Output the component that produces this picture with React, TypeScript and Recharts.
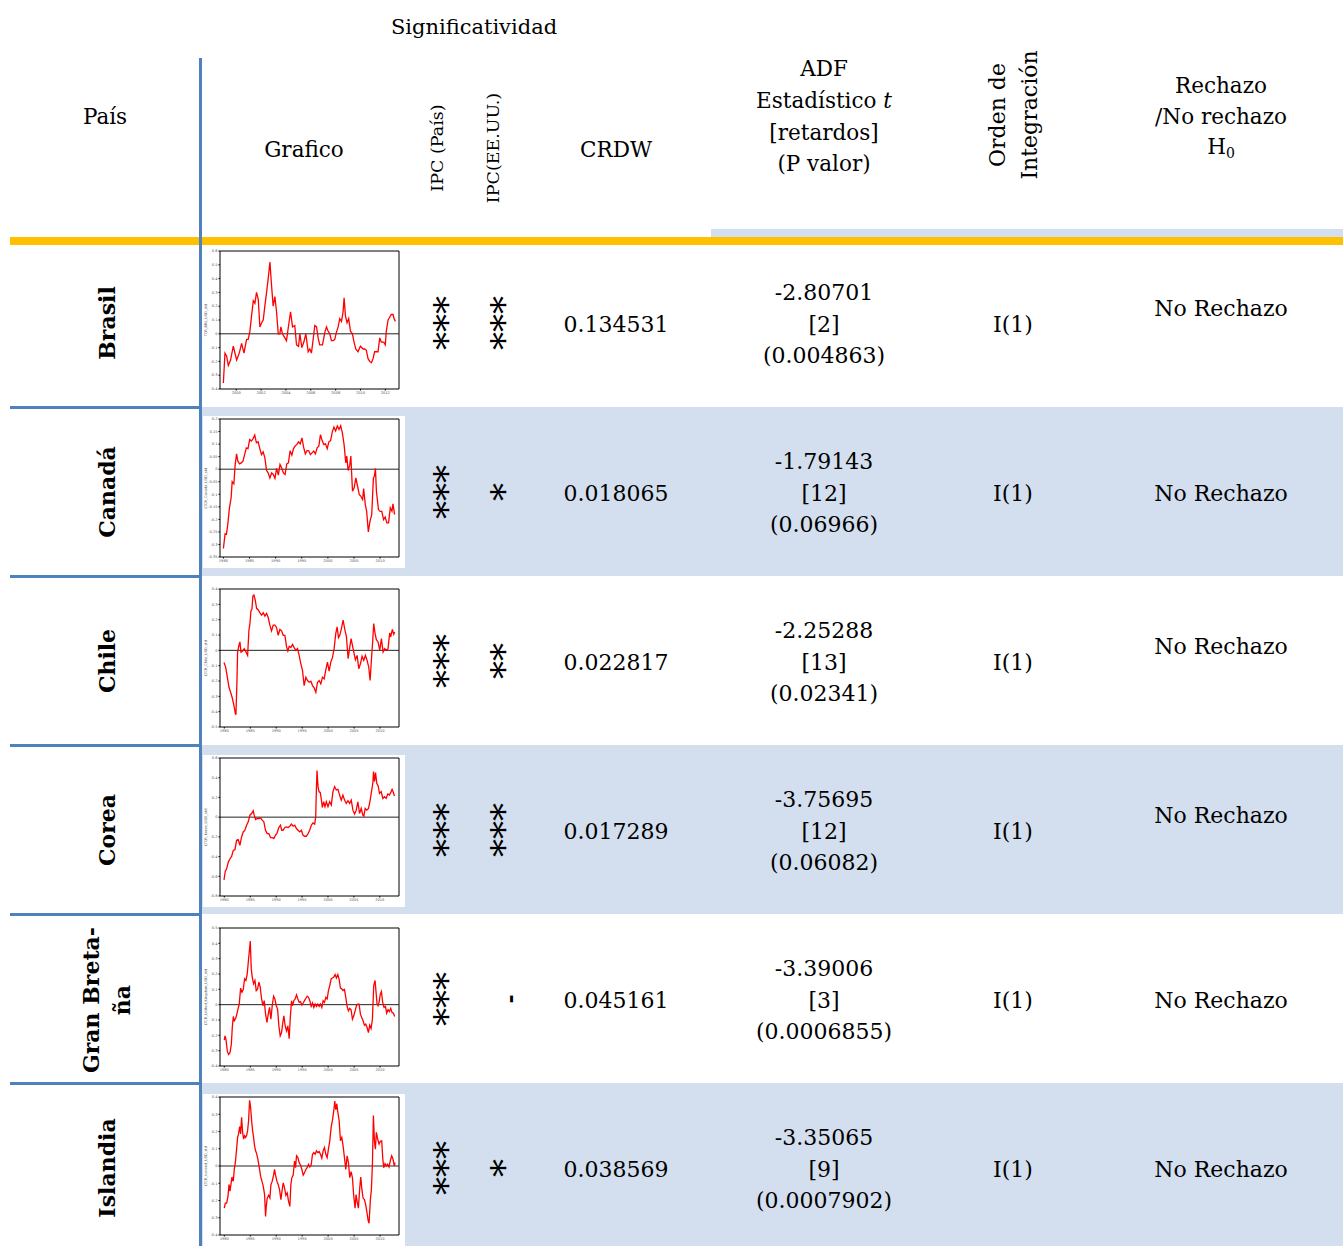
import { LineChart, Line, XAxis, YAxis, ReferenceLine } from "recharts";

const FONT = "'DejaVu Serif', serif";

// ---- Brasil (2000-2012 axis) ----
const brasilYears = [
  1998.96, 1999.09, 1999.22, 1999.36, 1999.54, 1999.76, 2000.03, 2000.24, 2000.43, 2000.62,
  2000.83, 2000.96, 2001.10, 2001.23, 2001.37, 2001.50, 2001.63, 2001.77, 2001.90, 2002.04,
  2002.17, 2002.30, 2002.44, 2002.57, 2002.71, 2002.84, 2002.97, 2003.11, 2003.24, 2003.38,
  2003.51, 2003.59, 2003.72, 2003.91, 2004.04, 2004.18, 2004.37, 2004.53, 2004.71, 2004.85,
  2005.01, 2005.12, 2005.28, 2005.44, 2005.60, 2005.79, 2005.92, 2006.05, 2006.19, 2006.32,
  2006.46, 2006.59, 2006.72, 2006.94, 2007.13, 2007.26, 2007.39, 2007.53, 2007.66, 2007.80,
  2007.93, 2008.06, 2008.20, 2008.33, 2008.47, 2008.60, 2008.68, 2008.79, 2008.92, 2009.05,
  2009.19, 2009.35, 2009.48, 2009.62, 2009.80, 2009.99, 2010.21, 2010.34, 2010.47, 2010.61,
  2010.74, 2010.88, 2011.01, 2011.14, 2011.28, 2011.41, 2011.55, 2011.68, 2011.87, 2012.00,
  2012.08, 2012.22, 2012.35, 2012.48, 2012.62, 2012.70, 2012.81,
];
const brasilValues = [
  -0.356, -0.14, -0.16, -0.23, -0.19, -0.09, -0.19, -0.14, -0.07, -0.14,
  -0.04, -0.04, 0.02, 0.13, 0.24, 0.22, 0.30, 0.25, 0.05, 0.08,
  0.10, 0.20, 0.30, 0.40, 0.52, 0.35, 0.20, 0.27, 0.16, 0.0,
  0.0, 0.05, 0.0, -0.03, -0.05, 0.04, 0.16, 0.05, 0.06, -0.08,
  -0.09, 0.0, -0.10, -0.06, 0.0, -0.13, -0.11, -0.14, -0.04, 0.06,
  0.05, -0.03, -0.08, -0.08, 0.01, 0.05, 0.02, 0.0, -0.05, -0.05,
  -0.04, 0.01, 0.05, 0.11, 0.09, 0.16, 0.26, 0.13, 0.08, 0.11,
  0.02, 0.0, -0.06, -0.11, -0.13, -0.09, -0.11, -0.11, -0.12, -0.18,
  -0.20, -0.21, -0.18, -0.13, -0.13, -0.13, -0.03, -0.06, -0.06, -0.08,
  0.02, 0.10, 0.12, 0.14, 0.14, 0.11, 0.09,
];

// ---- Canadá ----
const canadaYears = [
  1980.00, 1980.32, 1980.58, 1980.84, 1981.16, 1981.48, 1981.68, 1982.00, 1982.26, 1982.52,
  1982.77, 1983.10, 1983.42, 1983.74, 1984.06, 1984.39, 1984.71, 1985.03, 1985.35, 1985.68,
  1986.00, 1986.32, 1986.65, 1986.97, 1987.29, 1987.61, 1987.94, 1988.26, 1988.58, 1988.90,
  1989.23, 1989.55, 1989.87, 1990.19, 1990.52, 1990.84, 1991.16, 1991.48, 1991.81, 1992.13,
  1992.45, 1992.77, 1993.10, 1993.42, 1993.74, 1994.06, 1994.39, 1994.71, 1995.03, 1995.35,
  1995.68, 1996.00, 1996.32, 1996.65, 1996.97, 1997.29, 1997.61, 1997.94, 1998.26, 1998.58,
  1998.90, 1999.23, 1999.55, 1999.87, 2000.19, 2000.52, 2000.84, 2001.16, 2001.48, 2001.81,
  2002.13, 2002.45, 2002.77, 2003.10, 2003.42, 2003.61, 2003.87, 2004.19, 2004.39, 2004.71,
  2005.03, 2005.35, 2005.68, 2006.00, 2006.32, 2006.65, 2006.84, 2007.16, 2007.42, 2007.74,
  2008.06, 2008.39, 2008.71, 2008.90, 2009.10, 2009.29, 2009.68, 2010.00, 2010.32, 2010.65,
  2010.97, 2011.29, 2011.61, 2011.94, 2012.26, 2012.45, 2012.77,
];
const canadaValues = [
  -0.316, -0.258, -0.26, -0.22, -0.154, -0.114, -0.05, -0.058, 0.019, 0.061,
  0.032, 0.021, 0.025, 0.032, 0.058, 0.085, 0.082, 0.118, 0.112, 0.122,
  0.136, 0.105, 0.109, 0.082, 0.058, 0.069, 0.045, -0.005, -0.015, -0.035,
  -0.015, -0.021, -0.037, 0.003, -0.024, 0.019, 0.005, -0.015, -0.021, 0.021,
  0.025, 0.074, 0.056, 0.082, 0.093, 0.098, 0.109, 0.101, 0.125, 0.088,
  0.061, 0.074, 0.074, 0.058, 0.065, 0.072, 0.061, 0.085, 0.092, 0.138,
  0.114, 0.098, 0.101, 0.082, 0.109, 0.114, 0.149, 0.168, 0.152, 0.172,
  0.158, 0.173, 0.145, 0.098, 0.025, 0.052, -0.005, 0.016, 0.052, -0.088,
  -0.074, -0.035, -0.068, -0.101, -0.108, -0.121, -0.077, -0.141, -0.168, -0.25,
  -0.207, -0.181, -0.035, -0.028, 0.003, -0.088, -0.161, -0.168, -0.168, -0.201,
  -0.191, -0.214, -0.214, -0.154, -0.168, -0.138, -0.181,
];

// ---- Chile ----
const chileYears = [
  1979.94, 1980.26, 1980.58, 1980.90, 1981.22, 1981.54, 1981.86, 1982.12, 1982.24, 1982.44,
  1982.56, 1982.82, 1983.01, 1983.21, 1983.53, 1983.85, 1984.17, 1984.49, 1984.74, 1984.94,
  1985.13, 1985.32, 1985.51, 1985.71, 1985.96, 1986.22, 1986.54, 1986.86, 1987.18, 1987.50,
  1987.82, 1988.14, 1988.46, 1988.78, 1989.10, 1989.42, 1989.74, 1990.06, 1990.38, 1990.71,
  1991.03, 1991.35, 1991.67, 1991.99, 1992.24, 1992.50, 1992.82, 1993.14, 1993.46, 1993.78,
  1994.10, 1994.42, 1994.74, 1995.06, 1995.38, 1995.71, 1996.03, 1996.35, 1996.67, 1996.99,
  1997.31, 1997.63, 1997.95, 1998.27, 1998.59, 1998.91, 1999.23, 1999.55, 1999.87, 2000.19,
  2000.51, 2000.83, 2001.15, 2001.47, 2001.73, 2001.99, 2002.24, 2002.56, 2002.88, 2003.21,
  2003.53, 2003.85, 2004.17, 2004.42, 2004.68, 2004.94, 2005.26, 2005.58, 2005.90, 2006.22,
  2006.54, 2006.86, 2007.18, 2007.50, 2007.82, 2008.08, 2008.33, 2008.59, 2008.78, 2009.04,
  2009.29, 2009.62, 2009.94, 2010.26, 2010.58, 2010.90, 2011.22, 2011.54, 2011.86, 2012.05,
  2012.37, 2012.63, 2012.82,
];
const chileValues = [
  -0.079, -0.109, -0.175, -0.241, -0.274, -0.311, -0.361, -0.411, -0.42, -0.197,
  -0.011, 0.033, 0.055, -0.011, -0.004, 0.011, -0.011, -0.033, 0.131, 0.175,
  0.258, 0.267, 0.354, 0.361, 0.328, 0.274, 0.263, 0.245, 0.23, 0.245,
  0.223, 0.241, 0.214, 0.164, 0.127, 0.164, 0.164, 0.149, 0.098, 0.136,
  0.127, 0.098, 0.098, 0.022, -0.004, 0.026, 0.018, 0.039, 0.018, 0.0,
  0.011, -0.033, -0.088, -0.131, -0.23, -0.175, -0.197, -0.208, -0.201, -0.23,
  -0.245, -0.274, -0.208, -0.197, -0.219, -0.175, -0.186, -0.127, -0.077, -0.136,
  -0.077, -0.048, 0.011, 0.109, 0.153, 0.083, 0.098, 0.142, 0.197, 0.136,
  0.088, -0.055, 0.022, 0.077, 0.033, -0.011, -0.061, -0.033, -0.12, -0.088,
  -0.039, -0.066, -0.033, -0.066, -0.109, -0.197, -0.066, 0.066, 0.175, 0.109,
  0.07, 0.055, 0.0, 0.077, -0.011, 0.011, 0.0, 0.011, 0.114, 0.088,
  0.136, 0.105, 0.12,
];

// ---- Corea ----
const coreaYears = [
  1979.94, 1980.19, 1980.45, 1980.77, 1981.09, 1981.41, 1981.73, 1982.05, 1982.37, 1982.69,
  1983.01, 1983.33, 1983.65, 1983.97, 1984.30, 1984.62, 1984.94, 1985.26, 1985.58, 1985.77,
  1986.03, 1986.35, 1986.67, 1986.99, 1987.31, 1987.63, 1987.95, 1988.27, 1988.59, 1988.91,
  1989.23, 1989.55, 1989.87, 1990.19, 1990.51, 1990.83, 1991.09, 1991.35, 1991.67, 1991.99,
  1992.31, 1992.63, 1992.95, 1993.27, 1993.59, 1993.91, 1994.23, 1994.55, 1994.87, 1995.19,
  1995.51, 1995.83, 1996.15, 1996.47, 1996.79, 1997.11, 1997.44, 1997.63, 1997.76, 1997.88,
  1998.08, 1998.27, 1998.52, 1998.78, 1998.91, 1999.17, 1999.42, 1999.68, 2000.00, 2000.32,
  2000.64, 2000.96, 2001.28, 2001.60, 2001.92, 2002.24, 2002.56, 2002.88, 2003.20, 2003.52,
  2003.85, 2004.17, 2004.49, 2004.81, 2005.13, 2005.45, 2005.77, 2006.09, 2006.41, 2006.73,
  2006.92, 2007.18, 2007.50, 2007.82, 2008.14, 2008.46, 2008.65, 2008.78, 2008.97, 2009.17,
  2009.42, 2009.68, 2009.93, 2010.26, 2010.58, 2010.90, 2011.22, 2011.54, 2011.86, 2012.18,
  2012.37, 2012.63, 2012.82,
];
const coreaValues = [
  -0.636, -0.548, -0.524, -0.456, -0.422, -0.398, -0.337, -0.33, -0.235, -0.228,
  -0.286, -0.201, -0.15, -0.133, -0.082, -0.048, 0.02, 0.037, 0.065, 0.02,
  -0.024, -0.014, -0.014, -0.007, -0.031, -0.048, -0.133, -0.167, -0.167, -0.207,
  -0.207, -0.218, -0.184, -0.16, -0.105, -0.082, -0.133, -0.133, -0.105, -0.099,
  -0.105, -0.092, -0.071, -0.092, -0.082, -0.116, -0.133, -0.15, -0.133, -0.184,
  -0.194, -0.194, -0.167, -0.133, -0.082, -0.058, -0.071, 0.003, 0.276, 0.473,
  0.31, 0.259, 0.248, 0.156, 0.099, 0.156, 0.105, 0.156, 0.105, 0.156,
  0.122, 0.259, 0.31, 0.276, 0.282, 0.224, 0.173, 0.224, 0.173, 0.139,
  0.167, 0.139, 0.173, 0.071, 0.031, 0.071, 0.156, 0.037, 0.088, 0.02,
  0.01, 0.088, 0.071, 0.088, 0.173, 0.282, 0.344, 0.463, 0.361, 0.452,
  0.344, 0.316, 0.241, 0.259, 0.19, 0.207, 0.19, 0.235, 0.224, 0.259,
  0.282, 0.248, 0.214,
];

// ---- Gran Bretaña ----
const gbYears = [
  1980.00, 1980.13, 1980.32, 1980.58, 1980.83, 1981.09, 1981.35, 1981.54, 1981.73, 1981.92,
  1982.18, 1982.37, 1982.63, 1982.88, 1983.14, 1983.40, 1983.65, 1983.91, 1984.17, 1984.42,
  1984.68, 1984.87, 1985.00, 1985.19, 1985.38, 1985.64, 1985.90, 1986.15, 1986.41, 1986.67,
  1986.92, 1987.18, 1987.44, 1987.69, 1987.95, 1988.21, 1988.46, 1988.72, 1988.97, 1989.23,
  1989.49, 1989.74, 1990.00, 1990.26, 1990.51, 1990.77, 1991.03, 1991.28, 1991.47, 1991.73,
  1991.99, 1992.24, 1992.50, 1992.69, 1992.95, 1993.14, 1993.40, 1993.65, 1993.91, 1994.17,
  1994.42, 1994.68, 1994.94, 1995.19, 1995.45, 1995.71, 1995.96, 1996.22, 1996.47, 1996.73,
  1996.99, 1997.24, 1997.50, 1997.76, 1998.01, 1998.27, 1998.52, 1998.78, 1999.04, 1999.29,
  1999.55, 1999.81, 2000.06, 2000.32, 2000.58, 2000.83, 2001.09, 2001.35, 2001.60, 2001.86,
  2002.12, 2002.37, 2002.63, 2002.88, 2003.14, 2003.40, 2003.65, 2003.91, 2004.17, 2004.42,
  2004.68, 2004.94, 2005.19, 2005.45, 2005.71, 2005.96, 2006.22, 2006.47, 2006.73, 2006.99,
  2007.24, 2007.50, 2007.76, 2008.01, 2008.27, 2008.53, 2008.78, 2009.04, 2009.23, 2009.42,
  2009.62, 2009.81, 2010.06, 2010.26, 2010.51, 2010.77, 2011.03, 2011.28, 2011.54, 2011.79,
  2012.05, 2012.31, 2012.56, 2012.82,
];
const gbValues = [
  -0.231, -0.204, -0.226, -0.303, -0.325, -0.314, -0.259, -0.149, -0.077, -0.105,
  -0.09, -0.068, -0.029, 0.004, 0.108, 0.081, 0.099, 0.169, 0.158, 0.202,
  0.301, 0.367, 0.415, 0.235, 0.18, 0.136, 0.158, 0.092, 0.103, 0.147,
  0.114, 0.037, -0.007, 0.026, -0.062, -0.116, -0.062, -0.018, -0.095, -0.007,
  0.055, 0.037, -0.007, -0.029, -0.138, -0.204, -0.182, -0.116, -0.073, -0.138,
  -0.171, -0.138, -0.222, -0.095, 0.026, -0.007, 0.026, 0.037, 0.064, 0.037,
  0.015, 0.02, -0.002, 0.011, 0.026, 0.042, 0.055, 0.048, 0.026, -0.011,
  0.011, -0.018, 0.004, -0.011, 0.004, -0.011, 0.004, -0.018, 0.026, 0.015,
  0.048, 0.037, 0.092, 0.125, 0.169, 0.174, 0.18, 0.196, 0.174, 0.196,
  0.165, 0.108, 0.103, 0.092, 0.099, 0.048, -0.011, -0.04, -0.024, -0.033,
  -0.095, -0.073, -0.04, -0.007, 0.004, 0.004, -0.062, -0.084, -0.105, -0.134,
  -0.127, -0.149, -0.182, -0.134, -0.156, -0.095, 0.125, 0.158, 0.081, 0.004,
  -0.007, 0.015, 0.07, 0.086, 0.015, -0.018, -0.011, -0.055, -0.033, -0.046,
  -0.024, -0.051, -0.055, -0.077,
];

// ---- Islandia ----
const islandiaYears = [
  1980.00, 1980.19, 1980.45, 1980.71, 1980.90, 1981.09, 1981.28, 1981.47, 1981.73, 1981.92,
  1982.12, 1982.37, 1982.56, 1982.76, 1982.95, 1983.14, 1983.33, 1983.53, 1983.72, 1983.91,
  1984.10, 1984.29, 1984.49, 1984.68, 1984.87, 1985.06, 1985.26, 1985.45, 1985.64, 1985.83,
  1986.03, 1986.22, 1986.47, 1986.73, 1986.99, 1987.24, 1987.50, 1987.76, 1987.95, 1988.08,
  1988.27, 1988.53, 1988.78, 1988.97, 1989.23, 1989.49, 1989.68, 1989.87, 1990.13, 1990.38,
  1990.64, 1990.90, 1991.15, 1991.35, 1991.60, 1991.86, 1992.12, 1992.37, 1992.63, 1992.82,
  1993.01, 1993.27, 1993.53, 1993.72, 1993.91, 1994.17, 1994.42, 1994.68, 1994.94, 1995.19,
  1995.45, 1995.71, 1995.96, 1996.22, 1996.47, 1996.73, 1996.99, 1997.24, 1997.50, 1997.76,
  1998.01, 1998.27, 1998.52, 1998.78, 1999.04, 1999.29, 1999.55, 1999.81, 2000.06, 2000.32,
  2000.58, 2000.83, 2001.09, 2001.28, 2001.47, 2001.67, 2001.86, 2002.12, 2002.37, 2002.63,
  2002.88, 2003.14, 2003.40, 2003.65, 2003.91, 2004.17, 2004.42, 2004.68, 2004.94, 2005.19,
  2005.38, 2005.58, 2005.83, 2006.09, 2006.28, 2006.47, 2006.73, 2006.99, 2007.24, 2007.50,
  2007.69, 2007.88, 2008.14, 2008.33, 2008.53, 2008.72, 2008.91, 2009.10, 2009.29, 2009.55,
  2009.81, 2010.06, 2010.32, 2010.51, 2010.70, 2010.96, 2011.22, 2011.47, 2011.73, 2011.99,
  2012.24, 2012.50, 2012.76, 2012.88,
];
const islandiaValues = [
  -0.244, -0.215, -0.215, -0.176, -0.107, -0.146, -0.107, -0.064, -0.088, -0.02,
  0.02, 0.098, 0.166, 0.189, 0.229, 0.186, 0.283, 0.195, 0.156, 0.176,
  0.166, 0.176, 0.205, 0.264, 0.381, 0.342, 0.264, 0.205, 0.166, 0.117,
  0.088, 0.072, 0.039, -0.006, -0.059, -0.088, -0.117, -0.166, -0.293, -0.234,
  -0.186, -0.17, -0.186, -0.111, -0.088, -0.053, -0.02, -0.053, -0.088, -0.107,
  -0.137, -0.195, -0.137, -0.098, -0.127, -0.17, -0.156, -0.205, -0.234, -0.107,
  -0.068, -0.053, 0.029, -0.01, 0.059, 0.049, 0.02, 0.006, -0.02, -0.053,
  -0.039, -0.02, -0.01, 0.01, -0.006, 0.006, 0.068, 0.078, 0.068, 0.088,
  0.078, 0.084, 0.068, 0.045, 0.088, 0.107, 0.068, 0.049, 0.098, 0.146,
  0.225, 0.264, 0.322, 0.377, 0.326, 0.361, 0.313, 0.264, 0.146, 0.166,
  0.117, 0.049, -0.02, 0.059, 0.02, -0.068, -0.033, -0.068, -0.176, -0.244,
  -0.166, -0.205, -0.244, -0.127, -0.064, -0.127, -0.186, -0.195, -0.225, -0.273,
  -0.313, -0.332, -0.195, -0.137, 0.01, 0.293, 0.146, 0.098, 0.195, 0.156,
  0.127, 0.143, 0.146, 0.049, -0.01, 0.014, 0.0, 0.01, -0.006, 0.033,
  0.059, 0.039, 0.0, 0.02,
];

// axis ticks
const brasilXTicks = [2000, 2002, 2004, 2006, 2008, 2010, 2012];
const decadeTicks = [1980, 1985, 1990, 1995, 2000, 2005, 2010];
const brasilYTicks = [-0.4, -0.3, -0.2, -0.1, 0, 0.1, 0.2, 0.3, 0.4, 0.5, 0.6];
const canadaYTicks = [-0.35, -0.3, -0.25, -0.2, -0.15, -0.1, -0.05, 0, 0.05, 0.1, 0.15, 0.2];
const chileYTicks = [-0.5, -0.4, -0.3, -0.2, -0.1, 0, 0.1, 0.2, 0.3, 0.4];
const coreaYTicks = [-0.8, -0.6, -0.4, -0.2, 0, 0.2, 0.4, 0.6];
const gbYTicks = [-0.4, -0.3, -0.2, -0.1, 0, 0.1, 0.2, 0.3, 0.4, 0.5];
const islandiaYTicks = [-0.4, -0.3, -0.2, -0.1, 0, 0.1, 0.2, 0.3, 0.4];

// table values
const countries = [["Brasil"], ["Canadá"], ["Chile"], ["Corea"], ["Gran Breta-", "ña"], ["Islandia"]];
const sigPais = ["***", "***", "***", "***", "***", "***"];
const sigUS = ["***", "*", "**", "***", "-", "*"];
const crdw = ["0.134531", "0.018065", "0.022817", "0.017289", "0.045161", "0.038569"];
const adfStat = ["-2.80701", "-1.79143", "-2.25288", "-3.75695", "-3.39006", "-3.35065"];
const adfLags = ["[2]", "[12]", "[13]", "[12]", "[3]", "[9]"];
const adfP = ["(0.004863)", "(0.06966)", "(0.02341)", "(0.06082)", "(0.0006855)", "(0.0007902)"];
const orden = ["I(1)", "I(1)", "I(1)", "I(1)", "I(1)", "I(1)"];
const decision = ["No Rechazo", "No Rechazo", "No Rechazo", "No Rechazo", "No Rechazo", "No Rechazo"];

const rowTops = [245, 407, 576, 745, 914, 1083];
const rowMids = [325, 494, 663, 832, 1001, 1170];
const decisionShift = [-16, 0, -16, -16, 0, 0];
const thumbTops = [248, 416, 586, 755, 925, 1094];

const LIGHT = "#d3dfee";
const BLUE = "#4f81bd";
const ORANGE = "#ffc000";

const fmt = (v: number) => String(Math.round(v * 1000) / 1000);

function Thumb({ years, values, xDomain, xTicks, yDomain, yTicks, yLabel }: {
  years: number[]; values: number[]; xDomain: [number, number]; xTicks: number[];
  yDomain: [number, number]; yTicks: number[]; yLabel: string;
}) {
  const data = years.map((t, i) => ({ t, v: values[i] })).filter(d => d.v !== undefined);
  const tickStyle = { fontSize: 3.6, fill: "#555", fontFamily: "'DejaVu Sans', sans-serif" };
  return (
    <div style={{ position: "relative", width: 202, height: 152, background: "#fff" }}>
      <LineChart width={202} height={152} data={data} margin={{ top: 3, right: 6, bottom: 0, left: 0 }}>
        <XAxis dataKey="t" type="number" domain={xDomain} ticks={xTicks} allowDataOverflow interval={0}
          height={11} tickSize={1.5} tickMargin={1} tick={tickStyle} stroke="#000" />
        <YAxis type="number" domain={yDomain} ticks={yTicks} allowDataOverflow interval={0}
          width={17} tickSize={1.5} tickMargin={1} tick={tickStyle} tickFormatter={fmt} stroke="#000" />
        <ReferenceLine y={yDomain[1]} stroke="#000" strokeWidth={1} />
        <ReferenceLine x={xDomain[1]} stroke="#000" strokeWidth={1} />
        <ReferenceLine y={0} stroke="#222" strokeWidth={1} />
        <Line type="linear" dataKey="v" stroke="#ff0000" strokeWidth={1.3} dot={false} isAnimationActive={false} />
      </LineChart>
      <div style={{
        position: "absolute", left: 3.5, top: 72, transform: "translate(-50%, -50%) rotate(-90deg)",
        fontSize: 3.6, color: "#555", whiteSpace: "nowrap", fontFamily: "'DejaVu Sans', sans-serif", lineHeight: 1,
      }}>{yLabel}</div>
    </div>
  );
}

function Txt({ x, y, size = 22, rot = false, bold = false, children }: {
  x: number; y: number; size?: number; rot?: boolean; bold?: boolean; children: React.ReactNode;
}) {
  return (
    <div style={{
      position: "absolute", left: x, top: y,
      transform: `translate(-50%, -50%)${rot ? " rotate(-90deg)" : ""}`,
      fontSize: size, fontWeight: bold ? 700 : 400, whiteSpace: "nowrap", lineHeight: 1,
    }}>{children}</div>
  );
}

const thumbs = [
  { years: brasilYears, values: brasilValues, xDomain: [1998.69, 2013.1] as [number, number], xTicks: brasilXTicks, yDomain: [-0.4, 0.6] as [number, number], yTicks: brasilYTicks, yLabel: "TCR_BRL_USD_std" },
  { years: canadaYears, values: canadaValues, xDomain: [1979.35, 2013.61] as [number, number], xTicks: decadeTicks, yDomain: [-0.35, 0.2] as [number, number], yTicks: canadaYTicks, yLabel: "LTCR_Canada_USD_std" },
  { years: chileYears, values: chileValues, xDomain: [1979.17, 2013.65] as [number, number], xTicks: decadeTicks, yDomain: [-0.5, 0.4] as [number, number], yTicks: chileYTicks, yLabel: "LTCR_Chile_USD_std" },
  { years: coreaYears, values: coreaValues, xDomain: [1979.17, 2013.7] as [number, number], xTicks: decadeTicks, yDomain: [-0.8, 0.6] as [number, number], yTicks: coreaYTicks, yLabel: "LTCR_Korea_USD_std" },
  { years: gbYears, values: gbValues, xDomain: [1979.17, 2013.65] as [number, number], xTicks: decadeTicks, yDomain: [-0.4, 0.5] as [number, number], yTicks: gbYTicks, yLabel: "LTCR_United_Kingdom_USD_std" },
  { years: islandiaYears, values: islandiaValues, xDomain: [1979.17, 2013.65] as [number, number], xTicks: decadeTicks, yDomain: [-0.4, 0.4] as [number, number], yTicks: islandiaYTicks, yLabel: "LTCR_Iceland_USD_std" },
];

export default function App() {
  return (
    <div style={{
      position: "absolute", left: 0, top: 0, width: 1343, height: 1246, overflow: "hidden",
      background: "#fff", fontFamily: FONT, color: "#000",
    }}>
      {/* shaded rows */}
      {rowTops.map((top, i) => i % 2 === 1 && (
        <div key={"bg" + i} style={{ position: "absolute", left: 202, top, width: 1141, height: (rowTops[i + 1] ?? 1246) - top, background: LIGHT }} />
      ))}
      {/* header strip + orange rule */}
      <div style={{ position: "absolute", left: 711, top: 229, width: 632, height: 8, background: LIGHT }} />
      <div style={{ position: "absolute", left: 10, top: 237, width: 1333, height: 8, background: ORANGE }} />
      {/* vertical blue rule */}
      <div style={{ position: "absolute", left: 199, top: 58, width: 2.5, height: 1188, background: BLUE }} />
      {/* row separators in first column */}
      {rowTops.slice(1).map((top, i) => (
        <div key={"sep" + i} style={{ position: "absolute", left: 10, top: top - 1, width: 190, height: 2.5, background: BLUE }} />
      ))}

      {/* header */}
      <Txt x={474} y={27} size={21}>Significatividad</Txt>
      <Txt x={105} y={117} size={21.5}>País</Txt>
      <Txt x={304} y={150} size={21.5}>Grafico</Txt>
      <Txt x={438} y={148} size={17.5} rot>IPC (País)</Txt>
      <Txt x={494} y={148} size={17.5} rot>IPC(EE.UU.)</Txt>
      <Txt x={616} y={150} size={21.5}>CRDW</Txt>
      <Txt x={824} y={69} size={21.5}>ADF</Txt>
      <Txt x={824} y={101} size={21.5}>Estadístico <i>t</i></Txt>
      <Txt x={824} y={133} size={21.5}>[retardos]</Txt>
      <Txt x={824} y={164} size={21.5}>(P valor)</Txt>
      <Txt x={998} y={115} size={22} rot>Orden de</Txt>
      <Txt x={1030} y={115} size={22} rot>Integración</Txt>
      <Txt x={1221} y={86} size={21.5}>Rechazo</Txt>
      <Txt x={1221} y={117} size={21.5}>/No rechazo</Txt>
      <Txt x={1221} y={148} size={21.5}>H<span style={{ fontSize: 14, verticalAlign: -4 }}>0</span></Txt>

      {/* rows */}
      {rowMids.map((mid, i) => (
        <div key={"row" + i}>
          {countries[i].length === 1 ? (
            <Txt x={107} y={mid - 2} size={22} bold rot>{countries[i][0]}</Txt>
          ) : (
            <>
              <Txt x={91} y={mid - 1} size={22} bold rot>{countries[i][0]}</Txt>
              <Txt x={122} y={mid - 1} size={22} bold rot>{countries[i][1]}</Txt>
            </>
          )}
          <div style={{ position: "absolute", left: 203, top: thumbTops[i] }}>
            <Thumb {...thumbs[i]} />
          </div>
          <Txt x={447.5} y={mid - 2} size={36} rot>{sigPais[i]}</Txt>
          {sigUS[i] === "-" ? (
            <Txt x={510} y={mid - 2} size={22} bold rot>-</Txt>
          ) : (
            <Txt x={504.5} y={mid - 2} size={36} rot>{sigUS[i]}</Txt>
          )}
          <Txt x={616} y={mid} size={22}>{crdw[i]}</Txt>
          <Txt x={824} y={mid - 32} size={22}>{adfStat[i]}</Txt>
          <Txt x={824} y={mid} size={22}>{adfLags[i]}</Txt>
          <Txt x={824} y={mid + 31} size={22}>{adfP[i]}</Txt>
          <Txt x={1013} y={mid} size={22}>{orden[i]}</Txt>
          <Txt x={1221} y={mid + decisionShift[i]} size={22}>{decision[i]}</Txt>
        </div>
      ))}
    </div>
  );
}
